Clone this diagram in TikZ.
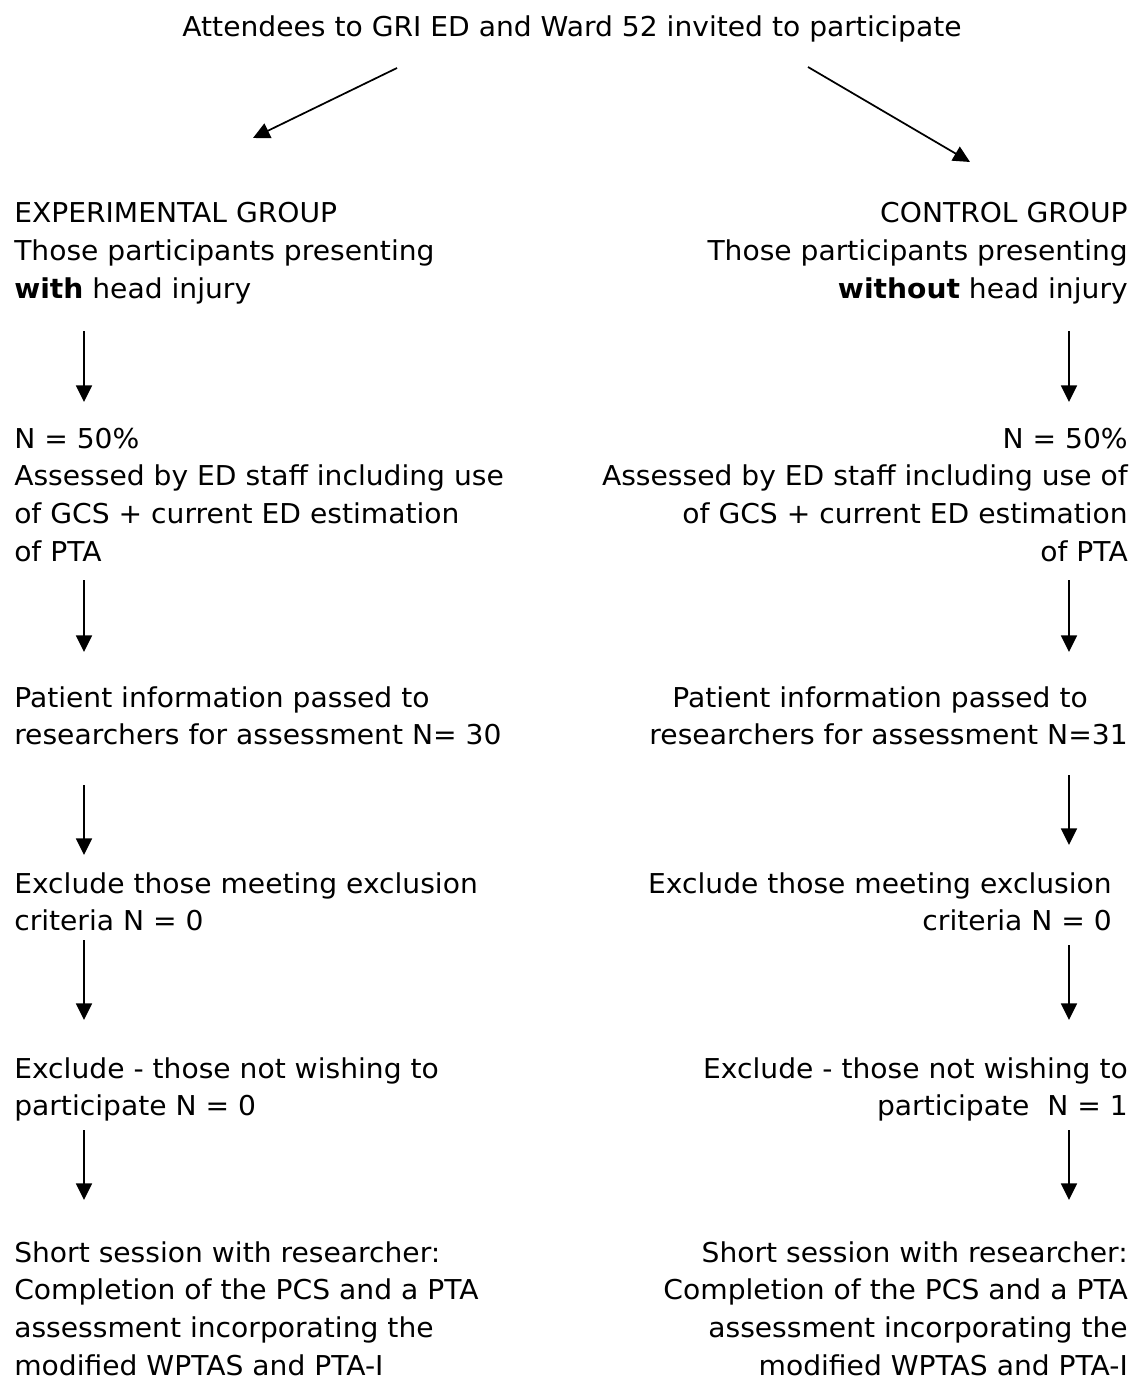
\documentclass[tikz,border=0pt]{standalone}
\usepackage{fontspec}
\setmainfont{DejaVu Sans}[FakeStretch=1.03]
\usetikzlibrary{arrows.meta}
\begin{document}
\begin{tikzpicture}[x=0.75pt,y=-0.75pt,
  txt/.style={inner sep=0pt, font=\fontsize{20.5}{28.3}\selectfont},
  lblock/.style={txt, anchor=base west},
  rblock/.style={txt, anchor=base east},
  arr/.style={line width=1.3pt, -{Triangle[length=12.5pt,width=12pt]}}]
\useasboundingbox (0,0) rectangle (1140,1380);

\node[txt, anchor=base] (title) at (572,37) {Attendees to GRI ED and Ward 52 invited to participate};

% left column
\node[lblock] (exp) at (14,223) {\begin{tabular}[t]{@{}l@{}}EXPERIMENTAL GROUP\\ Those participants presenting\\ \textbf{with} head injury\end{tabular}};
\node[lblock] (lass) at (14,448) {\begin{tabular}[t]{@{}l@{}}N = 50\%\\ Assessed by ED staff including use\\ of GCS + current ED estimation\\ of PTA\end{tabular}};
\node[lblock] (lpat) at (14,707) {\begin{tabular}[t]{@{}l@{}}Patient information passed to\\ researchers for assessment N= 30\end{tabular}};
\node[lblock] (lexc) at (14,893) {\begin{tabular}[t]{@{}l@{}}Exclude those meeting exclusion\\ criteria N = 0\end{tabular}};
\node[lblock] (lnot) at (14,1078) {\begin{tabular}[t]{@{}l@{}}Exclude - those not wishing to\\ participate N = 0\end{tabular}};
\node[lblock] (lses) at (14,1262) {\begin{tabular}[t]{@{}l@{}}Short session with researcher:\\ Completion of the PCS and a PTA\\ assessment incorporating the\\ modified WPTAS and PTA-I\end{tabular}};

% right column
\node[rblock] (ctl) at (1128,223) {\begin{tabular}[t]{@{}r@{}}CONTROL GROUP\\ Those participants presenting\\ \textbf{without} head injury\end{tabular}};
\node[rblock] (rass) at (1128,448) {\begin{tabular}[t]{@{}r@{}}N = 50\%\\ Assessed by ED staff including use of\\ of GCS + current ED estimation\\ of PTA\end{tabular}};
\node[rblock] (rpat) at (1128,707) {\begin{tabular}[t]{@{}r@{}}Patient information passed to\hspace{30pt}\mbox{}\\ researchers for assessment N=31\end{tabular}};
\node[rblock] (rexc) at (1112,893) {\begin{tabular}[t]{@{}r@{}}Exclude those meeting exclusion\\ criteria N = 0\end{tabular}};
\node[rblock] (rnot) at (1128,1078) {\begin{tabular}[t]{@{}r@{}}Exclude - those not wishing to\\ participate \ N = 1\end{tabular}};
\node[rblock] (rses) at (1128,1262) {\begin{tabular}[t]{@{}r@{}}Short session with researcher:\\ Completion of the PCS and a PTA\\ assessment incorporating the\\ modified WPTAS and PTA-I\end{tabular}};

% connector end points
\coordinate (ts1) at (397,68);  \coordinate (te1) at (253,138);
\coordinate (ts2) at (808,67);  \coordinate (te2) at (970,162);
\draw[arr] (ts1) -- (te1);
\draw[arr] (ts2) -- (te2);

\foreach \n/\a/\b in {1/331/402, 2/580/652, 3/785/855, 4/940/1020, 5/1130/1200}{
  \coordinate (la\n) at (84,\a); \coordinate (lb\n) at (84,\b);
  \draw[arr] (la\n) -- (lb\n);
}
\foreach \n/\a/\b in {1/331/402, 2/580/652, 3/775/845, 4/945/1020, 5/1130/1200}{
  \coordinate (ra\n) at (1069,\a); \coordinate (rb\n) at (1069,\b);
  \draw[arr] (ra\n) -- (rb\n);
}
\end{tikzpicture}
\end{document}
